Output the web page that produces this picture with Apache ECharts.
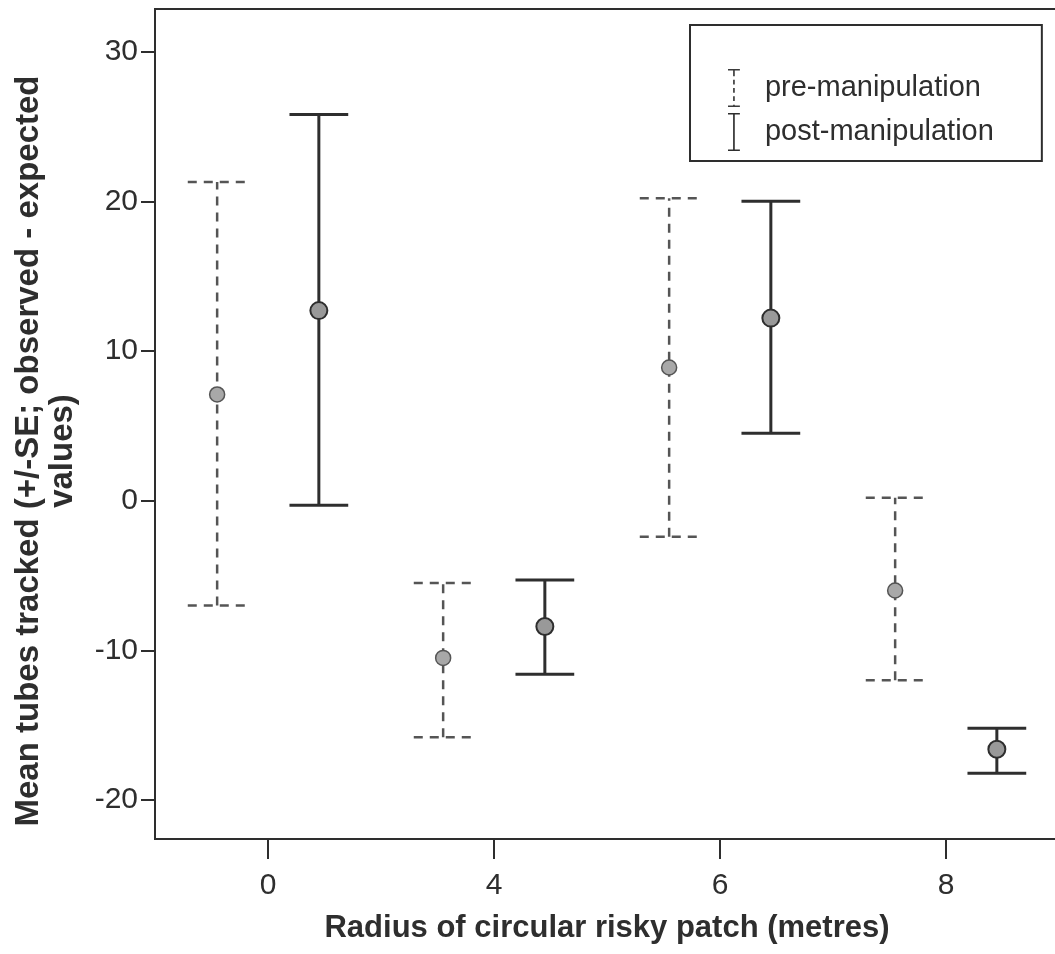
<!DOCTYPE html>
<html>
<head>
<meta charset="utf-8">
<script src="https://cdn.jsdelivr.net/npm/echarts@6/dist/echarts.min.js"></script>
<style>
  html, body { margin: 0; padding: 0; background: #fff; }
  #chart { width: 1055px; height: 954px; }
</style>
</head>
<body>
<div id="chart"></div>
<script>
// radius categories (metres)
var radius = ['0', '4', '6', '8'];
// pre-manipulation: mean, lower and upper end of +/-SE bar
var preMean = [7.1, -10.5, 8.9, -6.0];
var preLow = [-7.0, -15.8, -2.4, -12.0];
var preHigh = [21.3, -5.5, 20.2, 0.2];
// post-manipulation
var postMean = [12.7, -8.4, 12.2, -16.6];
var postLow = [-0.3, -11.6, 4.5, -18.2];
var postHigh = [25.8, -5.3, 20.0, -15.2];
// y tick labels
var yTicks = [-20, -10, 0, 10, 20, 30];

var font = "'Liberation Sans', Arial, Helvetica, sans-serif";

function buildData(mean, low, high) {
  var out = [];
  for (var i = 0; i < mean.length; i++) {
    out.push([i, mean[i], low[i], high[i]]);
  }
  return out;
}

// draws one error bar, shifted inside the category band
function makeRender(shift, dashed) {
  return function (params, api) {
    var band = api.size([1, 0])[0];
    var mid = api.coord([api.value(0), api.value(1)]);
    var lo = api.coord([api.value(0), api.value(2)]);
    var hi = api.coord([api.value(0), api.value(3)]);
    var x = mid[0] + shift * band;
    var half = band * 0.13;
    var lineStyle = dashed
      ? { stroke: '#555', lineWidth: 2.5, lineDash: [9, 7] }
      : { stroke: '#2e2e2e', lineWidth: 3 };
    return {
      type: 'group',
      children: [
        { type: 'line', shape: { x1: x, y1: lo[1], x2: x, y2: hi[1] }, style: lineStyle },
        { type: 'line', shape: { x1: x - half, y1: hi[1], x2: x + half, y2: hi[1] }, style: lineStyle },
        { type: 'line', shape: { x1: x - half, y1: lo[1], x2: x + half, y2: lo[1] }, style: lineStyle },
        {
          type: 'circle',
          shape: { cx: x, cy: mid[1], r: dashed ? 7.5 : 8.5 },
          style: dashed
            ? { fill: '#a8a8a8', stroke: '#555', lineWidth: 1.5 }
            : { fill: '#999', stroke: '#2e2e2e', lineWidth: 2 }
        }
      ]
    };
  };
}

var preIcon = 'path://M0,0H10V1.2H5.7V6H4.3V1.2H0Z M4.3,9H5.7V13H4.3Z M4.3,16H5.7V20H4.3Z M4.3,23H5.7V27H4.3Z M0,32H10V30.8H5.7V30H4.3V30.8H0Z';
var postIcon = 'path://M0,0H10V1.2H5.7V30.8H10V32H0V30.8H4.3V1.2H0Z';

var chart = echarts.init(document.getElementById('chart'));
var option = {
  backgroundColor: '#fff',
  animation: false,
  textStyle: { fontFamily: font },
  grid: {
    left: 155,
    right: -4,
    top: 9,
    bottom: 115,
    outerBoundsMode: 'none',
    show: true,
    borderColor: '#2e2e2e',
    borderWidth: 2
  },
  legend: {
    orient: 'vertical',
    left: 690,
    top: 25,
    padding: [44, 48, 10, 38],
    itemWidth: 12,
    itemHeight: 38,
    itemGap: 6,
    borderColor: '#2e2e2e',
    borderWidth: 2,
    textStyle: { fontSize: 29, color: '#2e2e2e', padding: [0, 0, 0, 20], fontFamily: font },
    data: [
      { name: 'pre-manipulation', icon: preIcon },
      { name: 'post-manipulation', icon: postIcon }
    ]
  },
  xAxis: {
    type: 'category',
    data: radius,
    boundaryGap: true,
    name: 'Radius of circular risky patch (metres)',
    nameLocation: 'middle',
    nameGap: 74,
    nameTextStyle: { fontSize: 31, fontWeight: 'bold', color: '#2e2e2e', fontFamily: font },
    axisLine: { show: true, onZero: false, lineStyle: { color: '#2e2e2e', width: 2 } },
    axisTick: { show: true, interval: 0, alignWithLabel: true, length: 20, lineStyle: { color: '#2e2e2e', width: 2 } },
    axisLabel: { fontSize: 30, color: '#2e2e2e', margin: 32 },
    splitLine: { show: false }
  },
  yAxis: {
    type: 'value',
    min: -22.6,
    max: 32.85,
    name: 'Mean tubes tracked (+/-SE; observed - expected\nvalues)',
    nameLocation: 'middle',
    nameGap: 75,
    nameTextStyle: { fontSize: 33, fontWeight: 'bold', color: '#2e2e2e', lineHeight: 34, fontFamily: font, padding: [0, 54, 0, 0] },
    axisLine: { show: true, lineStyle: { color: '#2e2e2e', width: 2 } },
    axisTick: { show: true, length: 14, customValues: yTicks, lineStyle: { color: '#2e2e2e', width: 2 } },
    axisLabel: { fontSize: 30, color: '#2e2e2e', margin: 17, customValues: yTicks },
    splitLine: { show: false }
  },
  series: [
    {
      name: 'pre-manipulation',
      type: 'custom',
      itemStyle: { color: '#3a3a3a' },
      renderItem: makeRender(-0.225, true),
      encode: { x: 0, y: [1, 2, 3] },
      data: buildData(preMean, preLow, preHigh)
    },
    {
      name: 'post-manipulation',
      type: 'custom',
      itemStyle: { color: '#2e2e2e' },
      renderItem: makeRender(0.225, false),
      encode: { x: 0, y: [1, 2, 3] },
      data: buildData(postMean, postLow, postHigh)
    }
  ]
};
chart.setOption(option);
</script>
</body>
</html>
